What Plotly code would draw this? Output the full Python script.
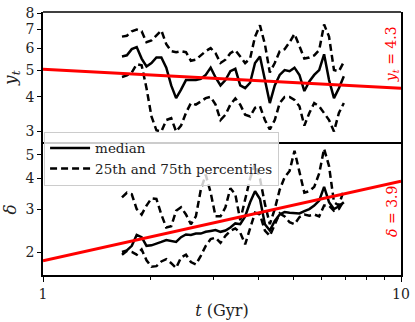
import plotly.graph_objects as go
from plotly.subplots import make_subplots

# time grid (Gyr)
t = [1.662, 1.715, 1.770, 1.827, 1.886, 1.946, 2.009, 2.074, 2.141, 2.210,
     2.281, 2.354, 2.430, 2.508, 2.589, 2.673, 2.759, 2.848, 2.940, 3.034,
     3.132, 3.233, 3.337, 3.445, 3.556, 3.670, 3.789, 3.911, 4.037, 4.167,
     4.301, 4.440, 4.583, 4.731, 4.884, 5.041, 5.204, 5.371, 5.545, 5.723,
     5.908, 6.098, 6.295, 6.498, 6.707, 6.923]

# y_t panel
yt_p75 = [6.6, 6.65, 6.9, 7.0, 6.9, 6.3, 6.4, 6.7, 6.95, 6.2,
          5.85, 5.8, 5.85, 5.8, 5.4, 5.45, 5.65, 5.85, 6.0, 5.75,
          5.3, 5.45, 5.75, 5.9, 5.6, 5.3, 5.5, 6.6, 7.25, 6.2,
          4.9, 5.3, 5.85, 5.95, 6.3, 6.75, 6.1, 5.5, 5.55, 5.65,
          5.9, 7.3, 6.6, 5.0, 4.95, 5.35]
yt_med = [5.6, 5.65, 5.95, 6.05, 5.5, 5.15, 5.3, 5.55, 5.55, 5.1,
          4.4, 3.96, 4.25, 4.6, 4.6, 4.6, 4.65, 4.8, 5.1, 4.7,
          4.4, 4.6, 4.95, 5.05, 4.4, 4.3, 4.5, 5.3, 5.6, 4.6,
          3.8, 4.4, 4.8, 5.0, 4.95, 5.1, 4.8, 4.2, 4.55, 4.8,
          5.0, 5.7, 4.6, 3.96, 4.3, 4.75]
yt_p25 = [4.72, 4.78, 4.9, 5.25, 5.2, 4.3, 3.4, 3.03, 3.0, 3.3,
          3.35, 3.0, 3.15, 3.5, 3.8, 3.75, 3.85, 3.96, 4.0, 3.75,
          3.3, 3.45, 3.75, 3.95, 3.75, 3.45, 3.4, 3.65, 3.7, 3.3,
          3.05, 3.3, 3.8, 4.0, 4.0, 3.9, 3.7, 3.15, 3.5, 3.8,
          3.7, 3.5, 3.3, 3.0, 3.5, 3.8]

# delta panel
d_p75 = [3.35, 3.5, 3.45, 3.0, 2.85, 3.1, 3.32, 3.3, 2.85, 2.52,
         2.55, 2.95, 3.05, 2.85, 2.6, 2.8, 3.6, 4.15, 3.5, 2.8,
         2.8, 3.05, 3.65, 3.45, 2.7, 3.3, 4.0, 4.6, 4.0, 3.15,
         2.6, 3.0, 3.6, 4.05, 4.3, 5.2, 4.2, 3.5, 3.55, 3.7,
         4.2, 5.3, 4.5, 3.2, 3.1, 3.6]
d_med = [2.0, 2.03, 2.12, 2.35, 2.3, 2.12, 2.13, 2.16, 2.2, 2.24,
         2.22, 2.2, 2.3, 2.36, 2.35, 2.38, 2.38, 2.42, 2.44, 2.46,
         2.42, 2.45, 2.52, 2.62, 2.6, 2.8, 3.2, 3.55, 3.3, 2.6,
         2.45, 2.68, 2.85, 2.92, 2.9, 2.9, 2.88, 2.94, 3.0, 3.1,
         3.25, 3.7, 3.2, 3.0, 3.08, 3.2]
d_p25 = [1.95, 2.02, 2.0, 1.95, 2.05, 1.85, 1.74, 1.75, 1.83, 1.87,
         1.8, 1.72, 1.9, 1.95, 1.82, 1.78, 1.93, 2.12, 2.26, 2.29,
         2.18, 2.33, 2.44, 2.5, 2.4, 2.15, 2.5, 2.9, 2.85, 2.45,
         2.33, 2.6, 2.88, 2.8, 2.65, 2.6, 2.78, 2.85, 2.82, 2.85,
         2.8, 3.1, 3.1, 2.95, 3.0, 3.25]

# red reference lines
fit_t = [1, 10]
yt_fit = [5.03, 4.3]
d_fit = [1.84, 3.9]

SERIF = "DejaVu Serif"
DASH = "7px,4px"

fig = make_subplots(rows=2, cols=1, shared_xaxes=True, vertical_spacing=0)

for row, (p75, med, p25, fit) in enumerate(
        [(yt_p75, yt_med, yt_p25, yt_fit), (d_p75, d_med, d_p25, d_fit)], start=1):
    first = row == 2
    fig.add_trace(go.Scatter(x=t, y=med, mode="lines", name="median",
                             line=dict(color="black", width=2.5),
                             showlegend=first, legendrank=1), row=row, col=1)
    fig.add_trace(go.Scatter(x=t, y=p75, mode="lines", name="25th and 75th percentiles",
                             line=dict(color="black", width=2.5, dash=DASH),
                             showlegend=first, legendrank=2), row=row, col=1)
    fig.add_trace(go.Scatter(x=t, y=p25, mode="lines", name="25th and 75th percentiles",
                             line=dict(color="black", width=2.5, dash=DASH),
                             showlegend=False), row=row, col=1)
    fig.add_trace(go.Scatter(x=fit_t, y=fit, mode="lines",
                             line=dict(color="red", width=3),
                             showlegend=False), row=row, col=1)

axis_style = dict(showline=True, mirror=True, linecolor="black", linewidth=1.5,
                  ticks="outside", ticklen=4, tickwidth=1, tickcolor="black",
                  showgrid=False, zeroline=False, ticklabeloverflow="allow",
                  tickfont=dict(family=SERIF, size=14, color="#222"))

fig.update_xaxes(type="log", range=[0, 1], **axis_style)
fig.update_xaxes(tickvals=[1, 10], ticktext=["1", "10"], ticklen=5,
                 minor=dict(ticks="outside", ticklen=3, tickcolor="black",
                            tickvals=[2, 3, 4, 5, 6, 7, 8, 9]),
                 title=dict(text="<i>t</i> (Gyr)", font=dict(family=SERIF, size=16, color="#222"),
                            standoff=4),
                 row=2, col=1)
# top panel: no own x line, the shared border comes from the lower panel
fig.update_xaxes(showticklabels=False, ticks="", showline=False, row=1, col=1)
fig.add_shape(type="line", xref="paper", yref="paper", x0=0, x1=1, y0=1, y1=1,
              line=dict(color="black", width=1.5))

fig.update_yaxes(type="log", **axis_style)
fig.update_yaxes(range=[0.4338, 0.9085], tickvals=[3, 4, 5, 6, 7, 8],
                 title=dict(text="<i>y<sub>t</sub></i>", font=dict(family=SERIF, size=17, color="#222"),
                            standoff=6),
                 row=1, col=1)
fig.update_yaxes(range=[0.2068, 0.7459], tickvals=[2, 3, 4, 5],
                 title=dict(text="<i>δ</i>", font=dict(family=SERIF, size=17, color="#222"),
                            standoff=6),
                 row=2, col=1)

fig.add_annotation(text="<i>y<sub>t</sub></i> = 4.3", textangle=-90, showarrow=False,
                   xref="x domain", yref="y domain", x=0.975, y=0.68,
                   xanchor="center", yanchor="middle",
                   font=dict(family=SERIF, size=14, color="red"))
fig.add_annotation(text="<i>δ</i> = 3.9", textangle=-90, showarrow=False,
                   xref="x2 domain", yref="y2 domain", x=0.975, y=0.48,
                   xanchor="center", yanchor="middle",
                   font=dict(family=SERIF, size=14, color="red"))

fig.update_layout(
    width=415, height=322,
    margin=dict(l=43, r=9, t=5, b=47),
    paper_bgcolor="white", plot_bgcolor="white",
    font=dict(family=SERIF, color="#222"),
    legend=dict(x=0.003, y=0.545, xanchor="left", yanchor="top",
                bgcolor="rgba(255,255,255,0.8)", bordercolor="#cccccc", borderwidth=1,
                font=dict(family=SERIF, size=13.5, color="#222"),
                itemwidth=40, tracegroupgap=0),
)

fig.write_html("out.html", config={"displayModeBar": False},
               post_script="document.body.style.margin='0';")
